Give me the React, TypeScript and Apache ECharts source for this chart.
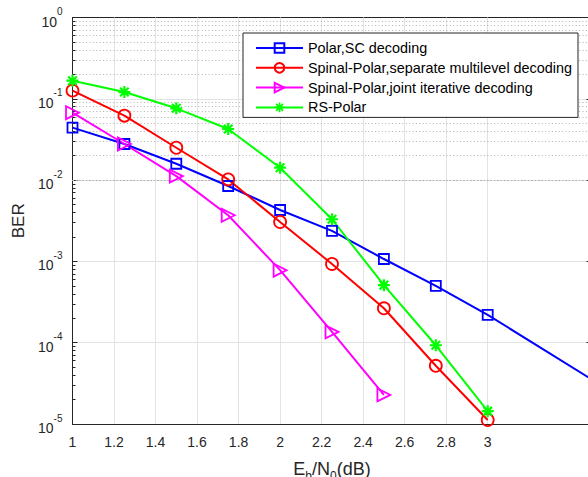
import React, { useEffect, useRef } from "react";
import * as echarts from "echarts";

const ebn0 = [1, 1.25, 1.5, 1.75, 2, 2.25, 2.5, 2.75, 3];
const ebn0Polar = [1, 1.25, 1.5, 1.75, 2, 2.25, 2.5, 2.75, 3, 3.5];
const ebn0Joint = [1, 1.25, 1.5, 1.75, 2, 2.25, 2.5];

const berPolarSC = [0.0442, 0.0278, 0.0159, 0.00846, 0.00429, 0.00237, 0.00107, 5.0e-4, 2.2e-4, 3.55e-5];
const berSeparate = [0.126, 0.062, 0.025, 0.0102, 0.00305, 9.3e-4, 2.65e-4, 5.2e-5, 1.12e-5];
const berJoint = [0.0675, 0.0278, 0.0112, 0.0037, 7.8e-4, 1.36e-4, 2.28e-5];
const berRS = [0.167, 0.121, 0.0764, 0.0425, 0.0142, 3.3e-3, 5.1e-4, 9.3e-5, 1.44e-5];

const seriesNames = [
  "Polar,SC decoding",
  "Spinal-Polar,separate multilevel decoding",
  "Spinal-Polar,joint iterative decoding",
  "RS-Polar",
];

const xTicks = [1, 1.2, 1.4, 1.6, 1.8, 2, 2.2, 2.4, 2.6, 2.8, 3];
const X_MIN = 1;
const X_MAX = 3.5;
const Y_MIN = 1e-5;
const Y_MAX = 1;
const decades = [1e-5, 1e-4, 1e-3, 1e-2, 1e-1];
const minorMultipliers = [2, 3, 4, 5, 6, 7, 8, 9];
const MINOR_TICK_X = 0.0145;

const FONT = "'Liberation Sans', Arial, Helvetica, sans-serif";
const AXIS_COLOR = "#262626";

const asteriskPath =
  "path://M9.8 0 L14.2 0 L14.2 24 L9.8 24 Z M0 9.8 L24 9.8 L24 14.2 L0 14.2 Z M1.9 5.0 L5.0 1.9 L22.1 19.0 L19.0 22.1 Z M19.0 1.9 L22.1 5.0 L5.0 22.1 L1.9 19.0 Z";

function pairs(xs: number[], ys: number[]) {
  return ys.map((y, i) => [xs[i], y]);
}

export default function App() {
  const ref = useRef<HTMLDivElement>(null);

  useEffect(() => {
    if (!ref.current) return;
    const chart = echarts.init(ref.current, null, { renderer: "svg" });

    const minorValues: number[] = [];
    decades.forEach((d) => minorMultipliers.forEach((m) => minorValues.push(d * m)));

    const gridMarkData: any[] = [];
    xTicks.slice(1).forEach((x) =>
      gridMarkData.push({ xAxis: x, lineStyle: { color: "#e3e3e3", width: 1, type: "solid" } })
    );
    minorValues.forEach((v) =>
      gridMarkData.push({ yAxis: v, lineStyle: { color: "#b0b0b0", width: 1, type: [1, 2.4] } })
    );
    minorValues.forEach((v) =>
      gridMarkData.push([
        { coord: [X_MIN, v], lineStyle: { color: AXIS_COLOR, width: 1, type: "solid" } },
        { coord: [X_MIN + MINOR_TICK_X, v] },
      ])
    );

    const polarData: any[] = pairs(ebn0Polar, berPolarSC).map((p, i) =>
      i === ebn0Polar.length - 1 ? { value: p, symbol: "none" } : p
    );

    const supFormatter = (v: number) => {
      const e = Math.round(Math.log10(v));
      return `{b|10}{s|${e}}`;
    };

    const option: any = {
      animation: false,
      backgroundColor: "#ffffff",
      textStyle: { fontFamily: FONT },
      grid: {
        left: 72.5,
        top: 17.5,
        right: -3.5,
        bottom: 53,
        containLabel: false,
        outerBoundsMode: "none",
      },
      legend: {
        data: seriesNames,
        orient: "vertical",
        left: 243,
        top: 33,
        z: 50,
        backgroundColor: "#ffffff",
        borderColor: "#262626",
        borderWidth: 1,
        borderRadius: 0,
        padding: [8, 6, 3, 12],
        itemWidth: 47,
        itemHeight: 12,
        itemGap: 5.8,
        textStyle: { fontSize: 14.4, color: "#000", fontFamily: FONT, lineHeight: 14 },
      },
      xAxis: [
        {
          type: "value",
          min: X_MIN,
          max: X_MAX,
          interval: 0.2,
          position: "bottom",
          name: "{n|E}{sub|b}{n|/N}{sub|0}{n|(dB)}",
          nameLocation: "middle",
          nameGap: 36,
          nameTextStyle: {
            rich: {
              n: { fontSize: 18, color: AXIS_COLOR, fontFamily: FONT, lineHeight: 22, verticalAlign: "top" },
              sub: { fontSize: 12, color: AXIS_COLOR, fontFamily: FONT, lineHeight: 22, verticalAlign: "bottom", padding: [12, 0, 0, 0] },
            },
          },
          axisLine: { show: true, lineStyle: { color: AXIS_COLOR, width: 1 } },
          axisTick: { show: true, inside: true, length: 5, customValues: xTicks, lineStyle: { color: AXIS_COLOR } },
          axisLabel: {
            customValues: xTicks,
            fontSize: 14,
            color: AXIS_COLOR,
            margin: 11,
            formatter: (v: number) => String(Math.round(v * 10) / 10),
          },
          splitLine: { show: false },
        },
        {
          type: "value",
          min: X_MIN,
          max: X_MAX,
          interval: 0.2,
          position: "top",
          axisLine: { show: true, lineStyle: { color: AXIS_COLOR, width: 1 } },
          axisTick: { show: true, inside: true, length: 5, customValues: xTicks, lineStyle: { color: AXIS_COLOR } },
          axisLabel: { show: false },
          splitLine: { show: false },
        },
      ],
      yAxis: [
        {
          type: "log",
          logBase: 10,
          min: Y_MIN,
          max: Y_MAX,
          interval: 1,
          position: "left",
          name: "BER",
          nameLocation: "middle",
          nameGap: 44,
          nameTextStyle: { fontSize: 17, color: AXIS_COLOR, fontFamily: FONT },
          axisLine: { show: true, lineStyle: { color: AXIS_COLOR, width: 1 } },
          axisTick: { show: true, inside: true, length: 5, lineStyle: { color: AXIS_COLOR } },
          axisLabel: {
            margin: 10,
            formatter: supFormatter,
            rich: {
              b: { fontSize: 14, color: AXIS_COLOR, fontFamily: FONT, lineHeight: 22, verticalAlign: "bottom" },
              s: { fontSize: 10, color: AXIS_COLOR, fontFamily: FONT, lineHeight: 22, verticalAlign: "top" },
            },
          },
          splitLine: { show: true, lineStyle: { color: "#e3e3e3", width: 1 } },
        },
        {
          type: "log",
          logBase: 10,
          min: Y_MIN,
          max: Y_MAX,
          interval: 1,
          position: "right",
          axisLine: { show: true, lineStyle: { color: AXIS_COLOR, width: 1 } },
          axisTick: { show: true, inside: true, length: 5, lineStyle: { color: AXIS_COLOR } },
          axisLabel: { show: false },
          splitLine: { show: false },
        },
      ],
      series: [
        {
          type: "line",
          name: "gridlines",
          z: 1,
          xAxisIndex: 0,
          yAxisIndex: 0,
          data: [],
          silent: true,
          markLine: {
            z: 1,
            silent: true,
            symbol: ["none", "none"],
            label: { show: false },
            emphasis: { disabled: true },
            animation: false,
            data: gridMarkData,
          },
        },
        {
          type: "line",
          name: seriesNames[0],
          z: 3,
          data: polarData,
          symbol: "rect",
          symbolSize: 10,
          lineStyle: { color: "#0000ff", width: 2 },
          itemStyle: { color: "rgba(255,255,255,0)", borderColor: "#0000ff", borderWidth: 1.8 },
        },
        {
          type: "line",
          name: seriesNames[1],
          z: 3,
          data: pairs(ebn0, berSeparate),
          symbol: "circle",
          symbolSize: 12,
          lineStyle: { color: "#ff0000", width: 2 },
          itemStyle: { color: "rgba(255,255,255,0)", borderColor: "#ff0000", borderWidth: 1.8 },
        },
        {
          type: "line",
          name: seriesNames[2],
          z: 3,
          data: pairs(ebn0Joint, berJoint),
          symbol: "triangle",
          symbolRotate: -90,
          symbolSize: 13,
          lineStyle: { color: "#ff00ff", width: 2 },
          itemStyle: { color: "rgba(255,255,255,0)", borderColor: "#ff00ff", borderWidth: 1.8 },
        },
        {
          type: "line",
          name: seriesNames[3],
          z: 3,
          data: pairs(ebn0, berRS),
          symbol: asteriskPath,
          symbolSize: 12,
          lineStyle: { color: "#00ff00", width: 2 },
          itemStyle: { color: "#00ff00", borderWidth: 0 },
        },
      ],
    };

    chart.setOption(option);
    return () => chart.dispose();
  }, []);

  return (
    <div
      ref={ref}
      style={{ position: "absolute", left: 0, top: 0, width: 588, height: 477, background: "#fff" }}
    />
  );
}
